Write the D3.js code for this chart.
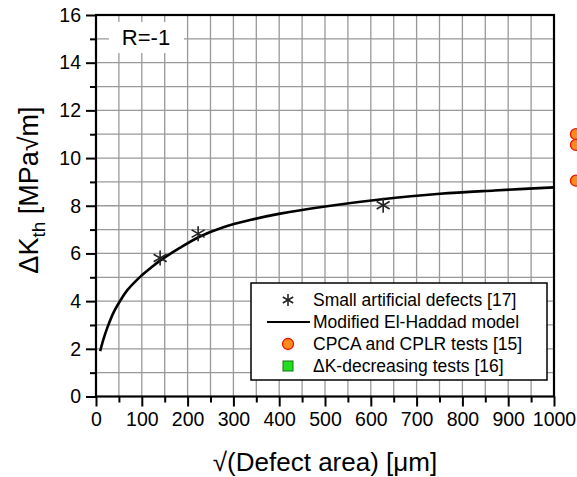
<!DOCTYPE html>
<html>
<head>
<meta charset="utf-8">
<script src="https://cdn.jsdelivr.net/npm/d3@7"></script>
<style>
  html, body { margin: 0; background: #fff; }
  svg { display: block; font-family: "Liberation Sans", Arial, sans-serif; }
</style>
</head>
<body>
<svg width="577" height="477"></svg>
<script>
// model curve
var curveX = [9, 17, 25, 39, 54, 68, 98, 123, 140, 183, 227, 278, 336, 402, 504, 620, 751, 870, 1000];
var curveY = [1.9, 2.45, 2.9, 3.55, 4.05, 4.45, 5.05, 5.45, 5.7, 6.23, 6.71, 7.1, 7.4, 7.67, 7.98, 8.26, 8.5, 8.64, 8.77];

// small artificial defects [17]
var starX = [140, 223, 627];
var starY = [5.81, 6.83, 8.02];

// CPCA and CPLR tests [15] (beyond the x range, cut at the page edge)
var cpcaX = [1048, 1048, 1048];
var cpcaY = [11.0, 10.55, 9.05];

var xTicks = [0, 100, 200, 300, 400, 500, 600, 700, 800, 900, 1000];
var yTicks = [0, 2, 4, 6, 8, 10, 12, 14, 16];

var legendLabels = ["Small artificial defects [17]", "Modified El-Haddad model",
                    "CPCA and CPLR tests [15]", "\u0394K-decreasing tests [16]"];

var svg = d3.select("svg");

var x = d3.scaleLinear().domain([0, 1000]).range([96, 554]);
var y = d3.scaleLinear().domain([0, 16]).range([396.5, 15]);

// grid
var grid = svg.append("g");
d3.range(50, 1000, 50).forEach(function(v) {
  grid.append("line").attr("x1", x(v)).attr("x2", x(v)).attr("y1", y(0)).attr("y2", y(16))
      .attr("stroke", "#999").attr("stroke-width", 1.3);
});
d3.range(1, 16, 1).forEach(function(v) {
  grid.append("line").attr("x1", x(0)).attr("x2", x(1000)).attr("y1", y(v)).attr("y2", y(v))
      .attr("stroke", "#999").attr("stroke-width", 1.3);
});

// R=-1 label box
svg.append("rect").attr("x", 109).attr("y", 22).attr("width", 75).attr("height", 31).attr("fill", "#fff");
svg.append("text").attr("x", 146).attr("y", 45).attr("text-anchor", "middle")
    .style("font-size", "22px").text("R=-1");

// axes
var xAxis = svg.append("g").attr("transform", "translate(0," + y(0) + ")")
    .call(d3.axisBottom(x).tickValues(xTicks).tickSize(10).tickPadding(6).tickFormat(d3.format("d")));
var xMinor = svg.append("g").attr("transform", "translate(0," + y(0) + ")")
    .call(d3.axisBottom(x).tickValues(d3.range(50, 1000, 100)).tickSize(6).tickFormat(""));
var yAxis = svg.append("g").attr("transform", "translate(" + x(0) + ",0)")
    .call(d3.axisLeft(y).tickValues(yTicks).tickSize(10).tickPadding(5));
var yMinor = svg.append("g").attr("transform", "translate(" + x(0) + ",0)")
    .call(d3.axisLeft(y).tickValues(d3.range(1, 16, 2)).tickSize(6).tickFormat(""));

[xAxis, xMinor, yAxis, yMinor].forEach(function(a) {
  a.select(".domain").remove();
  a.selectAll("line").attr("stroke", "#000").attr("stroke-width", 2);
  a.selectAll("text").attr("fill", "#000").style("font-size", "19.5px").style("font-family", "Liberation Sans, Arial, sans-serif");
});
xAxis.selectAll("text").attr("dy", "0.71em");

// frame
svg.append("rect").attr("x", x(0)).attr("y", y(16))
    .attr("width", x(1000) - x(0)).attr("height", y(0) - y(16))
    .attr("fill", "none").attr("stroke", "#000").attr("stroke-width", 2.2);

// model curve
var line = d3.line().x(function(d) { return x(d[0]); }).y(function(d) { return y(d[1]); })
    .curve(d3.curveCatmullRom.alpha(0.5));
svg.append("path").datum(d3.zip(curveX, curveY)).attr("d", line)
    .attr("fill", "none").attr("stroke", "#000").attr("stroke-width", 2.6);

function star(g, cx, cy, r) {
  var s = g.append("g").attr("transform", "translate(" + cx + "," + cy + ")");
  [90, 30, -30].forEach(function(a) {
    var t = a * Math.PI / 180;
    s.append("line").attr("x1", -r * Math.cos(t)).attr("y1", -r * Math.sin(t))
      .attr("x2", r * Math.cos(t)).attr("y2", r * Math.sin(t))
      .attr("stroke", "#222").attr("stroke-width", 1.6);
  });
}

d3.zip(starX, starY).forEach(function(d) { star(svg, x(d[0]), y(d[1]), 7.5); });

svg.selectAll(".cpca").data(d3.zip(cpcaX, cpcaY)).enter().append("circle")
    .attr("cx", function(d) { return x(d[0]); }).attr("cy", function(d) { return y(d[1]); })
    .attr("r", 5.5).attr("fill", "#ff8c1a").attr("stroke", "#ee1100").attr("stroke-width", 1.3);

// legend
var lg = svg.append("g");
lg.append("rect").attr("x", 251).attr("y", 283).attr("width", 296).attr("height", 97)
    .attr("fill", "#fff").attr("stroke", "#000").attr("stroke-width", 1.5);
var rowY = [300, 322, 344, 366];
lg.selectAll(".lt").data(legendLabels).enter().append("text")
    .attr("x", 313).attr("y", function(d, i) { return rowY[i] + 6; })
    .style("font-size", "17.5px").text(function(d) { return d; });
star(lg, 288, rowY[0], 6);
lg.append("line").attr("x1", 267).attr("x2", 310).attr("y1", rowY[1]).attr("y2", rowY[1])
    .attr("stroke", "#000").attr("stroke-width", 2);
lg.append("circle").attr("cx", 288).attr("cy", rowY[2]).attr("r", 5.5)
    .attr("fill", "#ff8c1a").attr("stroke", "#ee1100").attr("stroke-width", 1.3);
lg.append("rect").attr("x", 283).attr("y", rowY[3] - 5).attr("width", 10).attr("height", 10)
    .attr("fill", "#22dd22").attr("stroke", "#117711").attr("stroke-width", 1);

// axis titles
svg.append("text").attr("x", 325).attr("y", 471).attr("text-anchor", "middle")
    .style("font-size", "26px").text("\u221A(Defect area) [\u03BCm]");
var yt = svg.append("text").attr("transform", "translate(38,190) rotate(-90)")
    .attr("text-anchor", "middle").style("font-size", "27px");
yt.append("tspan").text("\u0394K");
yt.append("tspan").attr("dy", 7).style("font-size", "19px").text("th");
yt.append("tspan").attr("dy", -7).text(" [MPa\u221Am]");
</script>
</body>
</html>
